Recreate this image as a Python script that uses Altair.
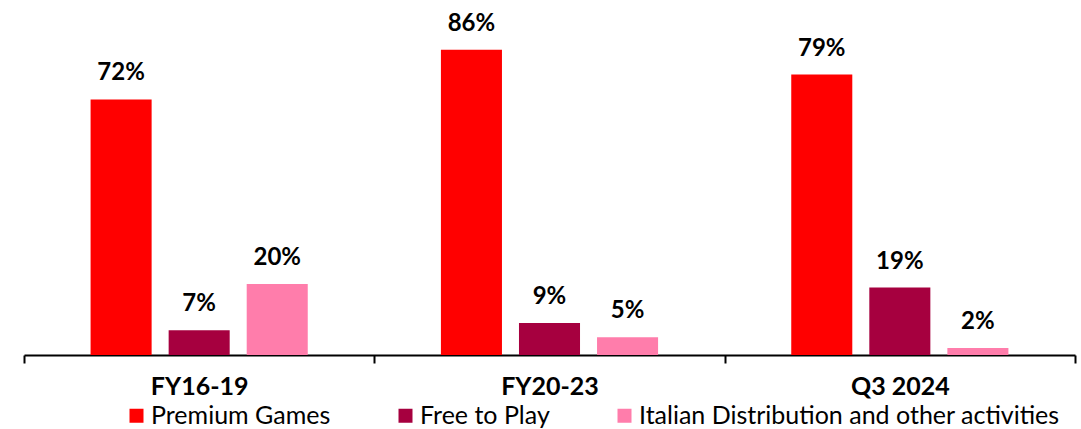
import altair as alt
import pandas as pd

# Revenue mix by business line, share of total (%)
periods = ["FY16-19", "FY20-23", "Q3 2024"]
segments = ["Premium Games", "Free to Play", "Italian Distribution and other activities"]
premium_games = [72, 86, 79]
free_to_play = [7, 9, 19]
italian_distribution = [20, 5, 2]
palette = ["#FF0000", "#A6003F", "#FF7DAB"]

rows = []
for seg, vals in zip(segments, [premium_games, free_to_play, italian_distribution]):
    for period, v in zip(periods, vals):
        rows.append({"period": period, "segment": seg, "share": v})
df = pd.DataFrame(rows)

FONT = "Lato"

base = alt.Chart(df).encode(
    x=alt.X(
        "period:N",
        sort=periods,
        title=None,
        scale=alt.Scale(paddingInner=0, paddingOuter=0),
        axis=alt.Axis(
            labelAngle=0,
            labelFont=FONT,
            labelFontSize=25,
            labelFontWeight="bold",
            labelColor="black",
            labelPadding=11,
            tickBand="extent",
            tickSize=8,
            tickWidth=2,
            tickColor="black",
            domainColor="black",
            domainWidth=2,
            grid=False,
        ),
    ),
    xOffset=alt.XOffset(
        "segment:N",
        sort=segments,
        scale=alt.Scale(paddingInner=0.218, paddingOuter=0.853),
    ),
    y=alt.Y("share:Q", scale=alt.Scale(domain=[0, 100]), axis=None),
)

bars = base.mark_bar().encode(
    color=alt.Color(
        "segment:N",
        sort=segments,
        scale=alt.Scale(domain=segments, range=palette),
        legend=alt.Legend(
            title=None,
            orient="none",
            legendX=100,
            legendY=403,
            direction="horizontal",
            columns=3,
            symbolType="square",
            symbolSize=196,
            symbolStrokeWidth=0,
            labelFont=FONT,
            labelFontSize=25,
            labelColor="black",
            labelOffset=2,
            labelLimit=800,
            columnPadding=62,
        ),
    )
)

labels = base.mark_text(
    baseline="bottom",
    dy=-14,
    font=FONT,
    fontSize=24,
    fontWeight="bold",
    color="black",
).transform_calculate(label="datum.share + '%'").encode(text="label:N")

chart = (
    alt.layer(bars, labels)
    .properties(
        width=1051,
        height=355,
        padding={"left": 24, "top": 0, "right": 6, "bottom": 74},
        autosize=alt.AutoSizeParams(type="none"),
        background="white",
    )
    .configure_view(stroke=None)
)

chart.save("out.html", embed_options={"renderer": "svg", "actions": False})
